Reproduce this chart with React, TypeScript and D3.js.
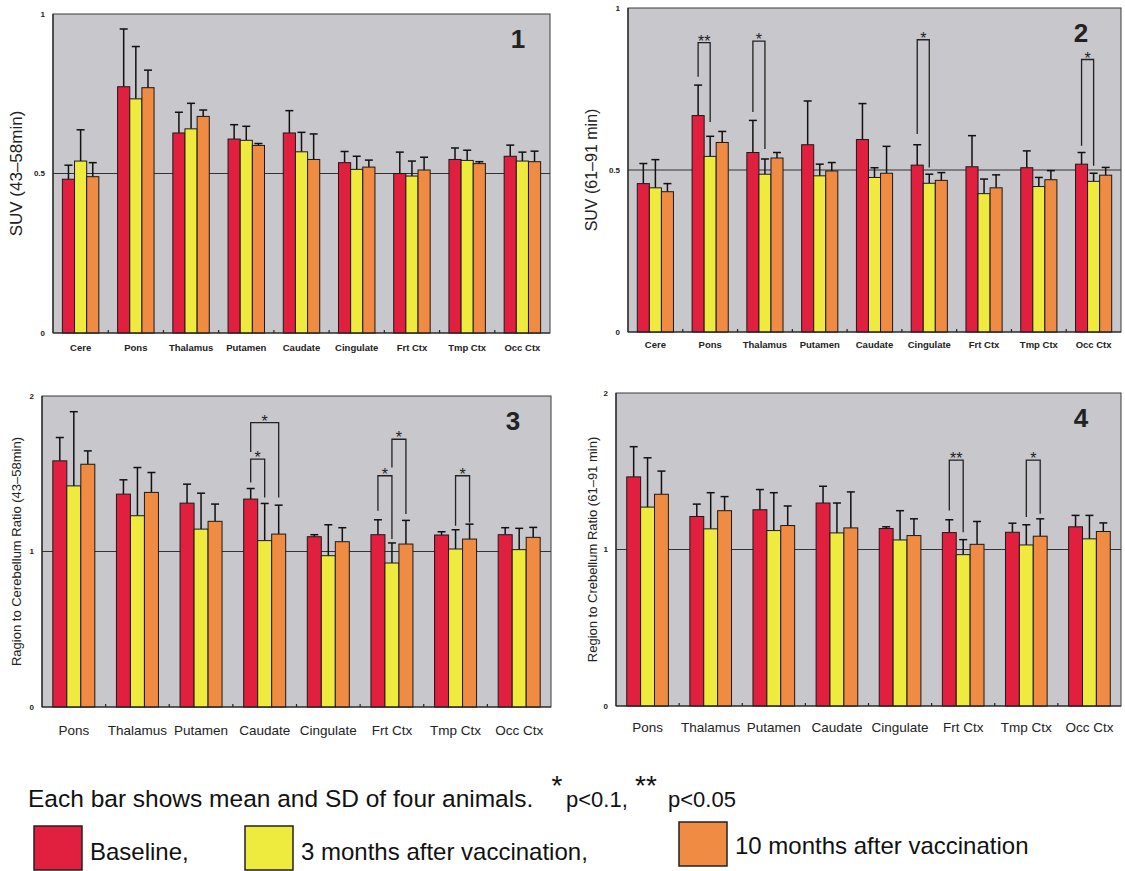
import React from "react";
import * as d3 from "d3";

const SERIES = ["Baseline", "3 months after vaccination", "10 months after vaccination"];
const COLORS = ["#e1203f", "#efeb3e", "#ef8b42"];

const CATS9 = ["Cere", "Pons", "Thalamus", "Putamen", "Caudate", "Cingulate", "Frt Ctx", "Tmp Ctx", "Occ Ctx"];
const CATS8 = ["Pons", "Thalamus", "Putamen", "Caudate", "Cingulate", "Frt Ctx", "Tmp Ctx", "Occ Ctx"];

// Panel 1: SUV (43-58 min)
const p1Base = [0.482, 0.772, 0.627, 0.608, 0.627, 0.534, 0.5, 0.544, 0.554];
const p1BaseSD = [0.044, 0.181, 0.065, 0.045, 0.07, 0.035, 0.067, 0.036, 0.035];
const p1M3 = [0.539, 0.734, 0.64, 0.604, 0.568, 0.513, 0.492, 0.541, 0.539];
const p1M3SD = [0.098, 0.164, 0.08, 0.044, 0.061, 0.041, 0.047, 0.032, 0.028];
const p1M10 = [0.49, 0.769, 0.679, 0.588, 0.544, 0.52, 0.511, 0.531, 0.537];
const p1M10SD = [0.044, 0.055, 0.02, 0.006, 0.08, 0.022, 0.04, 0.006, 0.033];

// Panel 2: SUV (61-91 min)
const p2Base = [0.458, 0.668, 0.554, 0.578, 0.594, 0.515, 0.51, 0.507, 0.518];
const p2BaseSD = [0.062, 0.094, 0.099, 0.135, 0.111, 0.063, 0.096, 0.052, 0.036];
const p2M3 = [0.445, 0.542, 0.487, 0.482, 0.477, 0.459, 0.427, 0.449, 0.465];
const p2M3SD = [0.087, 0.062, 0.047, 0.036, 0.03, 0.028, 0.045, 0.028, 0.025];
const p2M10 = [0.433, 0.585, 0.537, 0.497, 0.49, 0.468, 0.445, 0.47, 0.484];
const p2M10SD = [0.025, 0.034, 0.017, 0.026, 0.083, 0.024, 0.04, 0.028, 0.024];

// Panel 3: Region to cerebellum ratio (43-58 min)
const p3Base = [1.583, 1.369, 1.311, 1.337, 1.095, 1.108, 1.106, 1.108];
const p3BaseSD = [0.15, 0.092, 0.122, 0.068, 0.013, 0.096, 0.021, 0.045];
const p3M3 = [1.422, 1.23, 1.144, 1.07, 0.973, 0.926, 1.016, 1.012];
const p3M3SD = [0.477, 0.31, 0.231, 0.239, 0.199, 0.129, 0.124, 0.137];
const p3M10 = [1.561, 1.38, 1.194, 1.112, 1.063, 1.048, 1.08, 1.091];
const p3M10SD = [0.086, 0.128, 0.111, 0.186, 0.09, 0.152, 0.096, 0.064];

// Panel 4: Region to cerebellum ratio (61-91 min)
const p4Base = [1.464, 1.211, 1.254, 1.297, 1.134, 1.108, 1.11, 1.145];
const p4BaseSD = [0.193, 0.079, 0.129, 0.107, 0.011, 0.082, 0.058, 0.073];
const p4M3 = [1.271, 1.132, 1.121, 1.106, 1.061, 0.967, 1.029, 1.068];
const p4M3SD = [0.315, 0.231, 0.242, 0.191, 0.187, 0.096, 0.129, 0.15];
const p4M10 = [1.353, 1.248, 1.153, 1.138, 1.089, 1.033, 1.085, 1.115];
const p4M10SD = [0.148, 0.09, 0.125, 0.23, 0.107, 0.146, 0.111, 0.055];

// significance brackets: category, from series, to series, top, left leg bottom, right leg bottom, label
const p2Brackets = [
  { cat: "Pons", a: 0, b: 1, top: 0.893, lb: 0.788, rb: 0.648, label: "**" },
  { cat: "Thalamus", a: 0, b: 1, top: 0.898, lb: 0.679, rb: 0.565, label: "*" },
  { cat: "Cingulate", a: 0, b: 1, top: 0.902, lb: 0.611, rb: 0.508, label: "*" },
  { cat: "Occ Ctx", a: 0, b: 1, top: 0.841, lb: 0.575, rb: 0.513, label: "*" },
];
const p3Brackets = [
  { cat: "Caudate", a: 0, b: 2, top: 1.829, lb: 1.64, rb: 1.348, label: "*" },
  { cat: "Caudate", a: 0, b: 1, top: 1.594, lb: 1.444, rb: 1.348, label: "*" },
  { cat: "Frt Ctx", a: 0, b: 1, top: 1.487, lb: 1.262, rb: 1.08, label: "*" },
  { cat: "Frt Ctx", a: 1, b: 2, top: 1.722, lb: 1.54, rb: 1.241, label: "*" },
  { cat: "Tmp Ctx", a: 1, b: 2, top: 1.487, lb: 1.166, rb: 1.187, label: "*" },
];
const p4Brackets = [
  { cat: "Frt Ctx", a: 0, b: 1, top: 1.571, lb: 1.25, rb: 1.11, label: "**" },
  { cat: "Tmp Ctx", a: 1, b: 2, top: 1.571, lb: 1.207, rb: 1.228, label: "*" },
];

const p1Ticks = [0, 0.5, 1];
const p1TickLabels = ["0", "0.5", "1"];
const p3Ticks = [0, 1, 2];
const p3TickLabels = ["0", "1", "2"];

type Bracket = { cat: string; a: number; b: number; top: number; lb: number; rb: number; label: string };

type PanelProps = {
  cats: string[];
  means: number[][];
  sds: number[][];
  brackets: Bracket[];
  ticks: number[];
  tickLabels: string[];
  refLine: number;
  max: number;
  left: number;
  right: number;
  top: number;
  bottom: number;
  number: string;
  numberX: number;
  title: string;
  titleX: number;
  titleSize: number;
  tickX: number;
  tickFont: number;
  tickBold: boolean;
  catFont: number;
  catBold: boolean;
  catY: number;
};

const FONT = "'Liberation Sans', Arial, sans-serif";

function Panel(p: PanelProps) {
  const x0 = d3.scaleBand<string>().domain(p.cats).range([p.left, p.right]).padding(0);
  const bw = x0.bandwidth();
  const x1 = d3.scaleBand<number>().domain([0, 1, 2]).range([bw * 0.17, bw * 0.83]).padding(0);
  const y = d3.scaleLinear().domain([0, p.max]).range([p.bottom, p.top]);
  const barW = x1.bandwidth();
  const cx = (cat: string, s: number) => (x0(cat) as number) + (x1(s) as number) + barW / 2;

  return (
    <g>
      <rect x={p.left} y={p.top} width={p.right - p.left} height={p.bottom - p.top} fill="#c7c7cc" stroke="#3a3a3a" strokeWidth={1} />
      <line x1={p.left} x2={p.right} y1={y(p.refLine)} y2={y(p.refLine)} stroke="#333" strokeWidth={1} />
      {p.cats.slice(1).map((c) => (
        <line key={"t" + c} x1={x0(c)} x2={x0(c)} y1={p.bottom} y2={p.bottom - 3} stroke="#222" strokeWidth={1.2} />
      ))}
      {p.cats.map((c, i) => (
        <g key={c}>
          {[0, 1, 2].map((s) => {
            const v = p.means[s][i];
            const e = v + p.sds[s][i];
            const xc = cx(c, s);
            return (
              <g key={s}>
                <line x1={xc} x2={xc} y1={y(v)} y2={y(e)} stroke="#111" strokeWidth={1.5} />
                <line x1={xc - 4} x2={xc + 4} y1={y(e)} y2={y(e)} stroke="#111" strokeWidth={1.5} />
                <rect x={(x0(c) as number) + (x1(s) as number)} y={y(v)} width={barW} height={p.bottom - y(v)} fill={COLORS[s]} stroke="#1a1a1a" strokeWidth={1} />
              </g>
            );
          })}
        </g>
      ))}
      <line x1={p.left} x2={p.right} y1={p.bottom} y2={p.bottom} stroke="#222" strokeWidth={1.2} />
      <line x1={p.left} x2={p.left} y1={p.top} y2={p.bottom} stroke="#222" strokeWidth={1.2} />
      {p.brackets.map((b, i) => {
        const xa = cx(b.cat, b.a);
        const xb = cx(b.cat, b.b);
        return (
          <g key={"b" + i}>
            <path
              d={`M${xa},${y(b.lb)}V${y(b.top)}H${xb}V${y(b.rb)}`}
              fill="none"
              stroke="#222"
              strokeWidth={1.3}
            />
            <text x={(xa + xb) / 2} y={y(b.top) + 4} textAnchor="middle" fontFamily={FONT} fontSize={16} fill="#222">
              {b.label}
            </text>
          </g>
        );
      })}
      {p.ticks.map((t, i) => (
        <text key={"yl" + t} x={p.tickX} y={y(t)} dy="0.35em" textAnchor="end" fontFamily={FONT} fontSize={p.tickFont} fontWeight={p.tickBold ? "bold" : "normal"} fill="#222">
          {p.tickLabels[i]}
        </text>
      ))}
      {p.cats.map((c) => (
        <text key={"cl" + c} x={(x0(c) as number) + bw / 2} y={p.catY} dy="0.35em" textAnchor="middle" fontFamily={FONT} fontSize={p.catFont} fontWeight={p.catBold ? "bold" : "normal"} fill="#222">
          {c}
        </text>
      ))}
      <text x={p.numberX} y={p.top + 34} textAnchor="middle" fontFamily={FONT} fontSize={26} fontWeight="bold" fill="#222">
        {p.number}
      </text>
      <text
        transform={`translate(${p.titleX},${(p.top + p.bottom) / 2}) rotate(-90)`}
        textAnchor="middle"
        dy="0.35em"
        fontFamily={FONT}
        fontSize={p.titleSize}
        fill="#222"
      >
        {p.title}
      </text>
    </g>
  );
}

export default function App() {
  const legendY = 807;
  return (
    <svg width={1125} height={871} style={{ position: "absolute", left: 0, top: 0, background: "#fff" }}>
      <rect x={0} y={0} width={1125} height={871} fill="#fff" />
      <Panel
        cats={CATS9}
        means={[p1Base, p1M3, p1M10]}
        sds={[p1BaseSD, p1M3SD, p1M10SD]}
        brackets={[]}
        ticks={p1Ticks}
        tickLabels={p1TickLabels}
        refLine={0.5}
        max={1}
        left={53}
        right={550}
        top={14}
        bottom={333}
        number="1"
        numberX={518}
        title="SUV (43–58min)"
        titleX={16}
        titleSize={17}
        tickX={45}
        tickFont={8}
        tickBold={true}
        catFont={9.5}
        catBold={true}
        catY={348}
      />
      <Panel
        cats={CATS9}
        means={[p2Base, p2M3, p2M10]}
        sds={[p2BaseSD, p2M3SD, p2M10SD]}
        brackets={p2Brackets}
        ticks={p1Ticks}
        tickLabels={p1TickLabels}
        refLine={0.5}
        max={1}
        left={628}
        right={1121}
        top={8}
        bottom={332}
        number="2"
        numberX={1081}
        title="SUV (61–91 min)"
        titleX={591}
        titleSize={16}
        tickX={620}
        tickFont={8}
        tickBold={true}
        catFont={9.5}
        catBold={true}
        catY={345}
      />
      <Panel
        cats={CATS8}
        means={[p3Base, p3M3, p3M10]}
        sds={[p3BaseSD, p3M3SD, p3M10SD]}
        brackets={p3Brackets}
        ticks={p3Ticks}
        tickLabels={p3TickLabels}
        refLine={1}
        max={2}
        left={42}
        right={551}
        top={396}
        bottom={707}
        number="3"
        numberX={513}
        title="Ragion to Cerebellum Ratio (43–58min)"
        titleX={16}
        titleSize={13}
        tickX={34}
        tickFont={8}
        tickBold={true}
        catFont={13.5}
        catBold={false}
        catY={730}
      />
      <Panel
        cats={CATS8}
        means={[p4Base, p4M3, p4M10]}
        sds={[p4BaseSD, p4M3SD, p4M10SD]}
        brackets={p4Brackets}
        ticks={p3Ticks}
        tickLabels={p3TickLabels}
        refLine={1}
        max={2}
        left={616}
        right={1121}
        top={393}
        bottom={706}
        number="4"
        numberX={1081}
        title="Region to Crebellum Ratio (61–91 min)"
        titleX={592}
        titleSize={13}
        tickX={608}
        tickFont={8}
        tickBold={true}
        catFont={13.5}
        catBold={false}
        catY={727}
      />
      <g fontFamily={FONT} fill="#111">
        <text x={28} y={legendY} fontSize={24.5}>Each bar shows mean and SD of four animals.</text>
        <text x={557} y={legendY - 12} fontSize={28} textAnchor="middle">*</text>
        <text x={566} y={legendY} fontSize={22}>p&lt;0.1,</text>
        <text x={646} y={legendY - 12} fontSize={28} textAnchor="middle">**</text>
        <text x={668} y={legendY} fontSize={22}>p&lt;0.05</text>
        {[
          { x: 34, y: 826, tx: 90, ty: 860 },
          { x: 245, y: 826, tx: 301, ty: 860 },
          { x: 679, y: 822, tx: 735, ty: 854 },
        ].map((l, i) => (
          <g key={i}>
            <rect x={l.x} y={l.y} width={48} height={44} fill={COLORS[i]} stroke="#222" strokeWidth={1.5} />
            <text x={l.tx} y={l.ty} fontSize={24}>
              {i === 0 ? "Baseline," : i === 1 ? "3 months after vaccination," : "10 months after vaccination"}
            </text>
          </g>
        ))}
      </g>
    </svg>
  );
}
